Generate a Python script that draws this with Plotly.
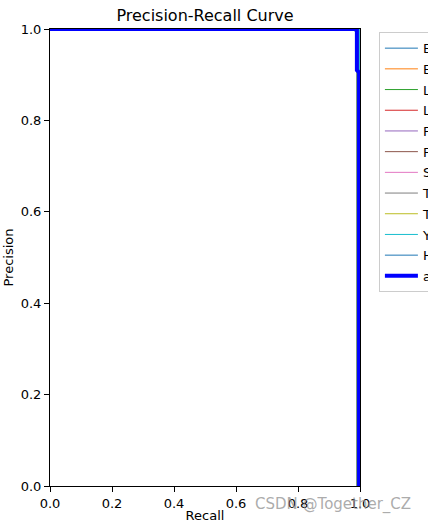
import plotly.graph_objects as go

# ---------------- data ----------------
class_names = ["Elephant 0.995", "Eagle 0.995", "Lion 0.994", "Leopard 0.995",
               "Fox 0.995", "Frog 0.995", "Snake 0.995", "Tiger 0.995",
               "Turtle 0.995", "Yak 0.995", "Horse 0.995"]
class_colors = ["#1f77b4", "#ff7f0e", "#2ca02c", "#d62728", "#9467bd", "#8c564b",
                "#e377c2", "#7f7f7f", "#bcbd22", "#17becf", "#1f77b4"]

class_recall = [
    [0.0, 0.992, 0.992],
    [0.0, 0.995, 0.995],
    [0.0, 0.970, 0.985, 0.990, 0.990],
    [0.0, 0.993, 0.993],
    [0.0, 0.996, 0.996],
    [0.0, 0.994, 0.994],
    [0.0, 0.997, 0.997],
    [0.0, 0.990, 0.990],
    [0.0, 0.995, 0.995],
    [0.0, 0.998, 0.998],
    [0.0, 0.993, 0.993],
]
class_precision = [
    [1.0, 1.0, 0.0],
    [1.0, 1.0, 0.0],
    [1.0, 1.0, 0.995, 0.99, 0.0],
    [1.0, 1.0, 0.0],
    [1.0, 1.0, 0.0],
    [1.0, 1.0, 0.0],
    [1.0, 1.0, 0.0],
    [1.0, 1.0, 0.0],
    [1.0, 1.0, 0.0],
    [1.0, 1.0, 0.0],
    [1.0, 1.0, 0.0],
]

all_name = "all classes 0.995 mAP@0.5"
all_recall = [0.0, 0.990, 0.990, 0.997, 0.997]
all_precision = [1.0, 1.0, 0.91, 0.905, 0.0]

tick_vals = [0.0, 0.2, 0.4, 0.6, 0.8, 1.0]
tick_text = ["0.0", "0.2", "0.4", "0.6", "0.8", "1.0"]

title_text = "Precision-Recall Curve"
x_title = "Recall"
y_title = "Precision"
watermark = "CSDN @Together_CZ"

# ---------------- figure ----------------
FONT = "DejaVu Sans"
fig = go.Figure()

for i, name in enumerate(class_names):
    fig.add_trace(go.Scatter(
        x=class_recall[i], y=class_precision[i], mode="lines", name=name,
        legendgroup=f"g{i}",
        line=dict(color=class_colors[i], width=1),
    ))

fig.add_trace(go.Scatter(
    x=all_recall, y=all_precision, mode="lines", name=all_name,
    legendgroup="gall",
    line=dict(color="blue", width=4),
))

axis_common = dict(
    range=[0, 1], tickvals=tick_vals, ticktext=tick_text,
    showgrid=False, zeroline=False, showline=True, linecolor="black",
    linewidth=1, mirror=True, ticks="outside", ticklen=5, tickwidth=1,
    tickcolor="black", tickfont=dict(family=FONT, size=13, color="black"),
)

fig.update_xaxes(**axis_common,
                 title=dict(text=x_title, font=dict(family=FONT, size=13, color="black"),
                            standoff=8))
fig.update_yaxes(**axis_common,
                 title=dict(text=y_title, font=dict(family=FONT, size=13, color="black"),
                            standoff=4))

fig.update_layout(
    width=428, height=523,
    margin=dict(l=50, r=68, t=29, b=37, autoexpand=False),
    paper_bgcolor="white", plot_bgcolor="white",
    title=dict(text=title_text, x=205 / 428, xanchor="center", y=1 - 15 / 523,
               yanchor="middle", font=dict(family=FONT, size=16, color="black")),
    showlegend=True,
    legend=dict(x=1.061, y=0.993, xanchor="left", yanchor="top",
                bordercolor="#cccccc", borderwidth=1, bgcolor="rgba(255,255,255,0.8)",
                font=dict(family=FONT, size=13, color="black"),
                itemwidth=33, tracegroupgap=0.8),
    annotations=[dict(text=watermark, xref="paper", yref="paper",
                      x=(413 - 50) / 310, y=-(504 - 486) / 457,
                      xanchor="right", yanchor="middle", showarrow=False,
                      font=dict(family=FONT, size=15, color="rgba(150,150,150,0.8)"))],
)

fig.write_html("out.html", config={"displayModeBar": False},
               post_script="document.body.style.margin='0px';document.body.style.padding='0px';")
